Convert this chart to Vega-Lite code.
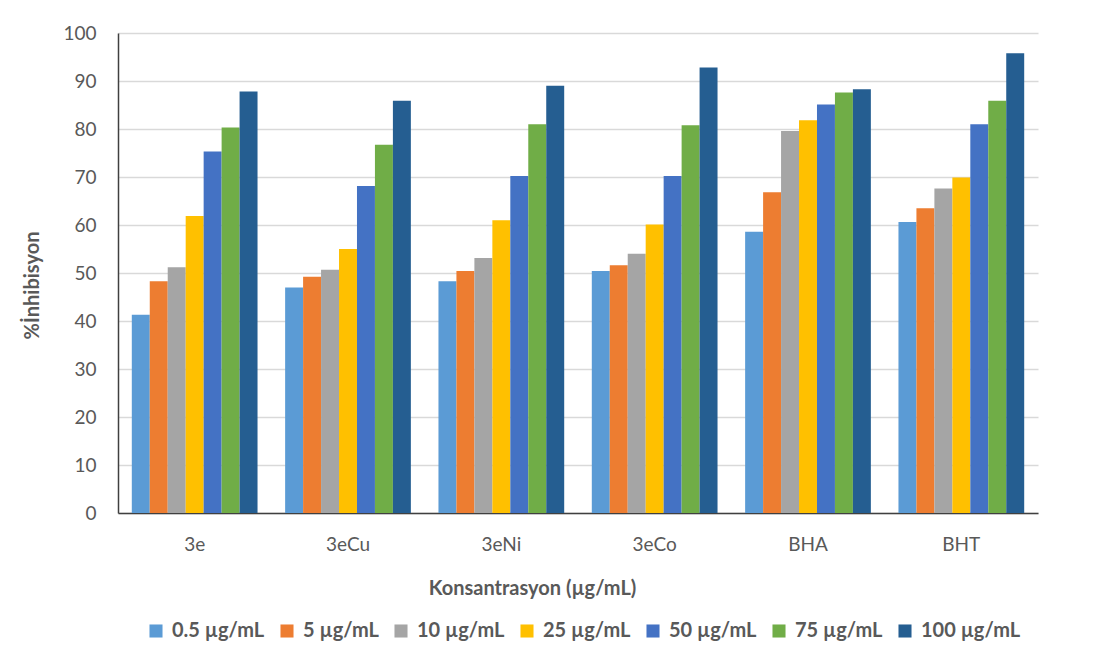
{
  "$schema": "https://vega.github.io/schema/vega-lite/v6.json",
  "autosize": {"type": "none"},
  "width": 920,
  "height": 480,
  "padding": {"left": 118, "top": 33, "right": 65, "bottom": 148},
  "background": "white",
  "data": {"values": [
    {"c": "3e", "k": "0.5 µg/mL", "v": 41.3},
    {"c": "3e", "k": "5 µg/mL", "v": 48.3},
    {"c": "3e", "k": "10 µg/mL", "v": 51.2},
    {"c": "3e", "k": "25 µg/mL", "v": 61.9},
    {"c": "3e", "k": "50 µg/mL", "v": 75.3},
    {"c": "3e", "k": "75 µg/mL", "v": 80.3},
    {"c": "3e", "k": "100 µg/mL", "v": 87.8},
    {"c": "3eCu", "k": "0.5 µg/mL", "v": 47.0},
    {"c": "3eCu", "k": "5 µg/mL", "v": 49.2},
    {"c": "3eCu", "k": "10 µg/mL", "v": 50.7},
    {"c": "3eCu", "k": "25 µg/mL", "v": 55.0},
    {"c": "3eCu", "k": "50 µg/mL", "v": 68.1},
    {"c": "3eCu", "k": "75 µg/mL", "v": 76.7},
    {"c": "3eCu", "k": "100 µg/mL", "v": 85.9},
    {"c": "3eNi", "k": "0.5 µg/mL", "v": 48.3},
    {"c": "3eNi", "k": "5 µg/mL", "v": 50.4},
    {"c": "3eNi", "k": "10 µg/mL", "v": 53.1},
    {"c": "3eNi", "k": "25 µg/mL", "v": 61.0},
    {"c": "3eNi", "k": "50 µg/mL", "v": 70.2},
    {"c": "3eNi", "k": "75 µg/mL", "v": 81.0},
    {"c": "3eNi", "k": "100 µg/mL", "v": 89.0},
    {"c": "3eCo", "k": "0.5 µg/mL", "v": 50.4},
    {"c": "3eCo", "k": "5 µg/mL", "v": 51.6},
    {"c": "3eCo", "k": "10 µg/mL", "v": 54.0},
    {"c": "3eCo", "k": "25 µg/mL", "v": 60.1},
    {"c": "3eCo", "k": "50 µg/mL", "v": 70.2},
    {"c": "3eCo", "k": "75 µg/mL", "v": 80.8},
    {"c": "3eCo", "k": "100 µg/mL", "v": 92.8},
    {"c": "BHA", "k": "0.5 µg/mL", "v": 58.6},
    {"c": "BHA", "k": "5 µg/mL", "v": 66.8},
    {"c": "BHA", "k": "10 µg/mL", "v": 79.6},
    {"c": "BHA", "k": "25 µg/mL", "v": 81.8},
    {"c": "BHA", "k": "50 µg/mL", "v": 85.1},
    {"c": "BHA", "k": "75 µg/mL", "v": 87.6},
    {"c": "BHA", "k": "100 µg/mL", "v": 88.3},
    {"c": "BHT", "k": "0.5 µg/mL", "v": 60.6},
    {"c": "BHT", "k": "5 µg/mL", "v": 63.5},
    {"c": "BHT", "k": "10 µg/mL", "v": 67.6},
    {"c": "BHT", "k": "25 µg/mL", "v": 69.9},
    {"c": "BHT", "k": "50 µg/mL", "v": 81.0},
    {"c": "BHT", "k": "75 µg/mL", "v": 85.9},
    {"c": "BHT", "k": "100 µg/mL", "v": 95.8}
  ]},
  "mark": {"type": "bar"},
  "encoding": {
    "x": {
      "field": "c", "type": "nominal", "sort": null,
      "scale": {"paddingInner": 0.18, "paddingOuter": 0.09},
      "axis": {
        "title": "Konsantrasyon  (µg/mL)",
        "labelAngle": 0, "ticks": false,
        "labelPadding": 22, "titlePadding": 24,
        "titleX": 414,
        "titleFontSize": 20,
        "domainColor": "#404040", "domainWidth": 1.5
      }
    },
    "xOffset": {
      "field": "k", "type": "nominal",
      "sort": ["0.5 µg/mL", "5 µg/mL", "10 µg/mL", "25 µg/mL", "50 µg/mL", "75 µg/mL", "100 µg/mL"]
    },
    "y": {
      "field": "v", "type": "quantitative",
      "scale": {"domain": [0, 100], "nice": false},
      "axis": {
        "title": "%İnhibisyon",
        "values": [0, 10, 20, 30, 40, 50, 60, 70, 80, 90, 100],
        "ticks": false, "labelPadding": 22, "titlePadding": 20,
        "titleFontSize": 20,
        "titleY": 252,
        "grid": true, "gridColor": "#d9d9d9", "gridWidth": 1.3,
        "domainColor": "#404040", "domainWidth": 1.5
      }
    },
    "color": {
      "field": "k", "type": "nominal",
      "sort": ["0.5 µg/mL", "5 µg/mL", "10 µg/mL", "25 µg/mL", "50 µg/mL", "75 µg/mL", "100 µg/mL"],
      "scale": {
        "domain": ["0.5 µg/mL", "5 µg/mL", "10 µg/mL", "25 µg/mL", "50 µg/mL", "75 µg/mL", "100 µg/mL"],
        "range": ["#5B9BD5", "#ED7D31", "#A5A5A5", "#FFC000", "#4472C4", "#70AD47", "#255E91"]
      },
      "legend": {
        "title": null,
        "orient": "none",
        "direction": "horizontal",
        "legendX": 28,
        "legendY": 588,
        "symbolType": "square",
        "symbolSize": 170,
        "symbolStrokeWidth": 0,
        "symbolOpacity": 1,
        "labelFontSize": 20,
        "labelFontWeight": "bold",
        "labelColor": "#595959",
        "labelFont": "Lato",
        "columnPadding": 12,
        "labelOffset": 6
      }
    }
  },
  "config": {
    "view": {"stroke": null},
    "axis": {
      "labelFont": "Lato", "titleFont": "Lato",
      "labelFontSize": 19, "titleFontSize": 18,
      "labelColor": "#595959", "titleColor": "#595959",
      "titleFontWeight": "bold"
    },
    "axisX": {"grid": false}
  }
}
